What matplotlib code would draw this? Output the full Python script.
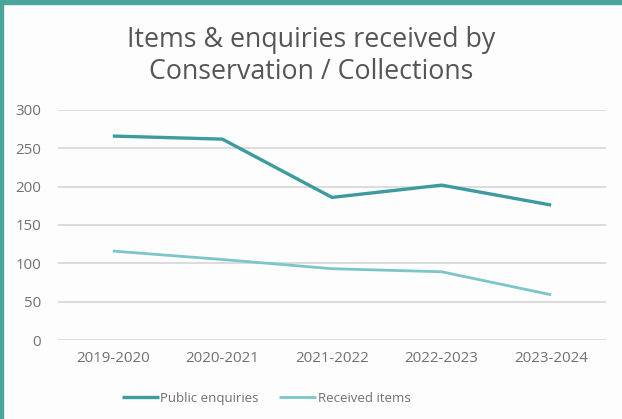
import matplotlib.pyplot as plt
from matplotlib.patches import Rectangle

# data
years = ["2019-2020", "2020-2021", "2021-2022", "2022-2023", "2023-2024"]
public_enquiries = [266, 262, 186, 202, 176]
received_items = [116, 105, 93, 89, 59]

plt.rcParams["font.family"] = ["Open Sans", "DejaVu Sans"]

fig = plt.figure(figsize=(6.22, 4.19), dpi=100)
fig.patch.set_facecolor("#fdfdfd")
ax = fig.add_axes([58 / 622, 1 - 340 / 419, 548 / 622, 230 / 419])
ax.set_facecolor("#fdfdfd")

x = range(len(years))
ax.plot(x, public_enquiries, color="#3b9b9e", lw=2.4, label="Public enquiries",
        solid_capstyle="butt")
ax.plot(x, received_items, color="#7cc6c9", lw=2.0, label="Received items",
        solid_capstyle="butt")

ax.set_xlim(-0.5, len(years) - 0.5)
ax.set_ylim(0, 300)
ax.set_yticks(range(0, 301, 50))
ax.set_xticks(list(x))
ax.set_xticklabels(years)
ax.grid(axis="y", color="#d9d9d9", lw=1.3)
ax.set_axisbelow(True)
for s in ax.spines.values():
    s.set_visible(False)
ax.tick_params(length=0, colors="#707070", labelsize=10.8)
ax.tick_params(axis="y", pad=12)
ax.tick_params(axis="x", pad=8)

fig.text(0.5, 1 - 40 / 419, "Items & enquiries received by", ha="center", va="center",
         fontsize=19.3, color="#555555")
fig.text(0.5, 1 - 72 / 419, "Conservation / Collections", ha="center", va="center",
         fontsize=19.3, color="#555555")

fig.legend(loc="center", bbox_to_anchor=(266 / 622, 1 - 398 / 419), ncol=2, frameon=False,
           fontsize=9.5, labelcolor="#707070", handlelength=2.8, handletextpad=0.1,
           columnspacing=1.6)

# teal frame on top and left edges
fig.patches.append(Rectangle((0, 1 - 4 / 419), 1, 4 / 419, transform=fig.transFigure,
                             color="#4aa69a", zorder=10))
fig.patches.append(Rectangle((0, 0), 3 / 622, 1, transform=fig.transFigure,
                             color="#4aa69a", zorder=10))

fig.savefig("out.png", dpi=100, facecolor=fig.get_facecolor())
